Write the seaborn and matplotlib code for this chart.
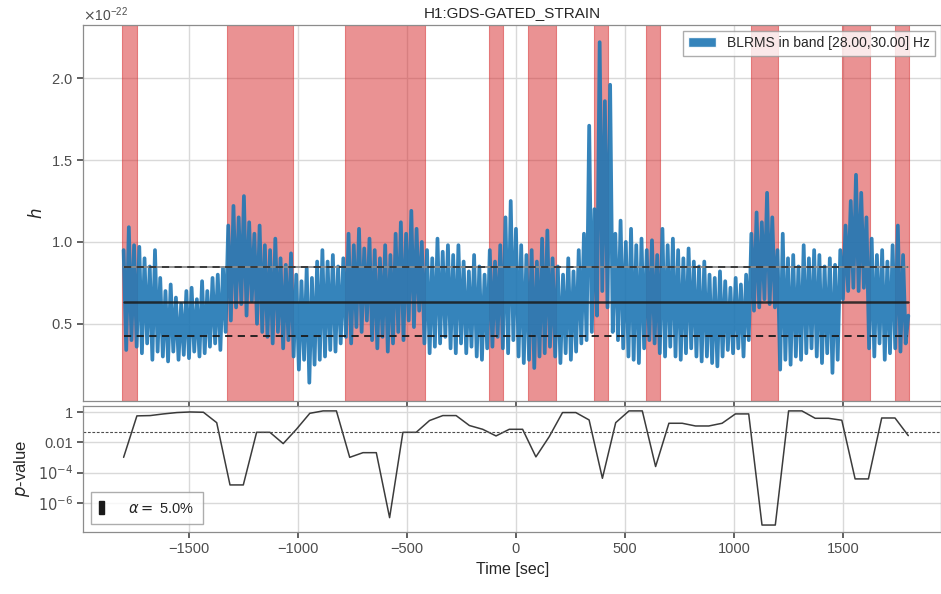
import numpy as np
import matplotlib
matplotlib.use("Agg")
import matplotlib.pyplot as plt
from matplotlib.ticker import ScalarFormatter, FixedLocator, NullLocator
from matplotlib.patches import Patch
import seaborn as sns

# ---------------- data ----------------
title = "H1:GDS-GATED_STRAIN"
legend_label = "BLRMS in band [28.00,30.00] Hz"
alpha_label = r"$\alpha =$ 5.0%"

# BLRMS values (units of 1e-22), one row per 60 s, 12 s apart, starting at -1800 s
blrms_rows = [
    [0.95, 0.34, 1.09, 0.40, 0.98],
    [0.36, 0.97, 0.32, 0.90, 0.38],
    [0.85, 0.28, 0.95, 0.33, 0.78],
    [0.30, 0.70, 0.27, 0.74, 0.33],
    [0.66, 0.28, 0.62, 0.31, 0.70],
    [0.29, 0.72, 0.33, 0.65, 0.30],
    [0.76, 0.32, 0.70, 0.36, 0.78],
    [0.38, 0.80, 0.34, 0.84, 0.45],
    [1.10, 0.52, 1.22, 0.60, 1.15],
    [0.62, 1.28, 0.55, 1.12, 0.64],
    [1.05, 0.50, 1.10, 0.45, 0.98],
    [0.42, 0.95, 0.38, 1.02, 0.45],
    [0.90, 0.35, 0.86, 0.40, 0.93],
    [0.30, 0.80, 0.22, 0.76, 0.28],
    [0.84, 0.14, 0.78, 0.25, 0.88],
    [0.28, 0.95, 0.30, 0.88, 0.34],
    [0.92, 0.33, 0.85, 0.38, 0.90],
    [0.42, 1.05, 0.38, 0.98, 0.48],
    [1.08, 0.45, 0.96, 0.52, 1.02],
    [0.40, 0.95, 0.35, 0.90, 0.42],
    [0.98, 0.33, 0.92, 0.38, 1.05],
    [0.45, 1.12, 0.40, 1.05, 0.52],
    [1.19, 0.48, 1.08, 0.58, 1.00],
    [0.38, 0.95, 0.32, 0.90, 0.36],
    [1.02, 0.38, 0.94, 0.42, 0.98],
    [0.35, 0.92, 0.32, 0.98, 0.38],
    [0.88, 0.32, 0.82, 0.36, 0.92],
    [0.30, 0.85, 0.28, 0.80, 0.35],
    [0.95, 0.36, 0.88, 0.42, 0.98],
    [0.35, 1.15, 0.32, 1.25, 0.40],
    [1.08, 0.30, 0.98, 0.26, 0.92],
    [0.28, 0.95, 0.23, 0.88, 0.30],
    [1.02, 0.32, 1.07, 0.36, 0.90],
    [0.30, 0.85, 0.26, 0.80, 0.32],
    [0.90, 0.28, 0.82, 0.33, 0.95],
    [0.38, 1.05, 0.40, 1.71, 0.45],
    [1.20, 0.55, 2.22, 0.70, 1.86],
    [0.60, 1.96, 0.45, 1.05, 0.40],
    [1.13, 0.35, 1.00, 0.30, 1.08],
    [0.28, 0.98, 0.26, 1.02, 0.35],
    [0.95, 0.40, 1.01, 0.38, 0.92],
    [0.32, 1.08, 0.30, 0.98, 0.36],
    [1.02, 0.30, 0.95, 0.28, 0.90],
    [0.32, 0.96, 0.35, 0.88, 0.30],
    [0.85, 0.27, 0.88, 0.30, 0.80],
    [0.26, 0.78, 0.24, 0.82, 0.30],
    [0.76, 0.34, 0.72, 0.32, 0.78],
    [0.35, 0.74, 0.30, 0.80, 0.40],
    [1.05, 0.58, 1.18, 0.60, 1.12],
    [0.65, 1.30, 0.62, 1.15, 0.60],
    [0.95, 0.22, 1.05, 0.28, 0.90],
    [0.25, 0.92, 0.30, 0.85, 0.28],
    [0.98, 0.32, 0.90, 0.35, 0.95],
    [0.30, 0.92, 0.26, 0.85, 0.32],
    [0.90, 0.20, 0.86, 0.28, 0.95],
    [0.65, 1.10, 0.70, 1.25, 0.72],
    [1.41, 0.70, 1.30, 0.72, 1.15],
    [0.35, 1.02, 0.30, 0.92, 0.38],
    [0.95, 0.28, 0.88, 0.32, 0.98],
    [0.35, 1.10, 0.33, 0.92, 0.38],
]
blrms_last = [0.55]
blrms_mean = 0.634
blrms_upper = 0.848
blrms_lower = 0.427
scale = 1e-22

# p-values at 60 equally spaced times from -1800 to 1800 s (log10)
pval_log10 = [
    -2.99, -0.24, -0.22, -0.11, -0.02, 0.02, 0.00, -0.69, -4.82, -4.82,
    -1.33, -1.33, -2.08, -1.12, -0.07, 0.09, 0.09, -2.99, -2.68, -2.68,
    -6.99, -1.33, -1.33, -0.55, -0.22, -0.22, -0.88, -1.13, -1.57, -1.13,
    -1.13, -2.96, -1.62, -0.02, -0.02, -0.51, -4.38, -0.69, 0.09, 0.09,
    -3.60, -0.73, -0.73, -0.91, -0.91, -0.73, -0.11, -0.11, -7.48, -7.48,
    0.09, 0.09, -0.40, -0.40, -0.53, -4.42, -4.42, -0.38, -0.38, -1.55,
]
alpha_level = 0.05

# flagged segments (start, end) in seconds
span_starts = [-1806, -1327, -785, -125, 56, 358, 595, 1077, 1497, 1737]
span_ends = [-1740, -1022, -418, -59, 182, 422, 663, 1202, 1622, 1802]

t_start, t_end = -1800, 1800

# ---------------- style ----------------
sns.set_theme(style="whitegrid")
plt.rcParams["font.family"] = ["Liberation Sans", "DejaVu Sans"]
plt.rcParams.update({
    "axes.edgecolor": "0.55",
    "axes.linewidth": 0.9,
    "grid.color": "0.85",
    "grid.linewidth": 1.0,
    "xtick.bottom": True,
    "ytick.left": True,
    "xtick.color": "0.3",
    "ytick.color": "0.3",
    "xtick.major.size": 4,
    "ytick.major.size": 4,
    "xtick.labelsize": 10.5,
    "ytick.labelsize": 10.5,
    "text.color": "0.15",
    "axes.labelcolor": "0.15",
})

fig = plt.figure(figsize=(9.41, 5.94), dpi=100)
ax1 = fig.add_axes([0.0885, 0.3254, 0.9115, 0.6325])
ax2 = fig.add_axes([0.0885, 0.1049, 0.9115, 0.2116], sharex=ax1)

# ---------------- top panel ----------------
vals = np.concatenate([np.array(blrms_rows).ravel(), blrms_last]) * scale
t = np.linspace(t_start, t_end, len(vals))

for s0, s1 in zip(span_starts, span_ends):
    ax1.axvspan(s0, s1, facecolor="#d62728", edgecolor="#d62728", alpha=0.5, lw=0.8, zorder=1)

sns.lineplot(x=t, y=vals, ax=ax1, color="#1f77b4", alpha=0.9, lw=2.7, zorder=3,
             estimator=None, sort=False)
ax1.plot([t_start, t_end], [blrms_mean * scale] * 2, color="k", lw=1.8, alpha=0.85, zorder=4)
ax1.plot([t_start, t_end], [blrms_upper * scale] * 2, color="0.55", lw=1.3, zorder=4)
ax1.plot([t_start, t_end], [blrms_upper * scale] * 2, color="0.2", lw=1.3, ls=(0, (4, 3)), zorder=4)
ax1.plot([t_start, t_end], [blrms_lower * scale] * 2, color="k", lw=1.3, ls=(0, (4, 3)), zorder=4)

ax1.set_xlim(-1985, 1950)
ax1.set_ylim(0.03e-22, 2.325e-22)
ax1.yaxis.set_major_locator(FixedLocator([0.5e-22, 1.0e-22, 1.5e-22, 2.0e-22]))
fmt = ScalarFormatter(useMathText=True)
ax1.yaxis.set_major_formatter(fmt)
ax1.yaxis.get_offset_text().set_fontsize(10)
ax1.tick_params(axis="x", labelbottom=False)
ax1.set_ylabel(r"$h$", fontsize=12)
ax1.set_xlabel("")
ax1.set_title(title, fontsize=11, pad=6)
ax1.grid(True, zorder=0)
ax1.set_axisbelow(True)
ax1.legend(handles=[Patch(facecolor="#1f77b4", alpha=0.9, label=legend_label)],
           loc="upper right", fontsize=10, fancybox=False, framealpha=0.8,
           edgecolor="0.6", borderaxespad=0.4)

# ---------------- bottom panel ----------------
tp = np.linspace(t_start, t_end, len(pval_log10))
pv = 10.0 ** np.array(pval_log10)
sns.lineplot(x=tp, y=pv, ax=ax2, color="k", lw=1.1, alpha=0.85, estimator=None, sort=False)
ax2.axhline(alpha_level, color="0.3", lw=0.8, ls=(0, (2.5, 1.5)))
ax2.set_yscale("log")
ax2.set_ylim(1.2e-8, 2.6)
ax2.yaxis.set_major_locator(FixedLocator([1e-6, 1e-4, 1e-2, 1]))
ax2.set_yticklabels([r"$10^{-6}$", r"$10^{-4}$", "0.01", "1"])
ax2.yaxis.set_minor_locator(NullLocator())
ax2.set_xticks([-1500, -1000, -500, 0, 500, 1000, 1500])
ax2.set_xticklabels(["\u22121500", "\u22121000", "\u2212500", "0", "500", "1000", "1500"])
ax2.set_xlim(-1985, 1950)
ax2.set_ylabel(r"$p$-value", fontsize=12)
ax2.set_xlabel("Time [sec]", fontsize=11.5)
ax2.legend(handles=[Patch(facecolor="k", edgecolor="k", label=alpha_label)],
           loc="lower left", fontsize=10.5, fancybox=False, framealpha=0.8,
           edgecolor="0.6", handlelength=0.35, handleheight=1.0, handletextpad=1.6,
           borderpad=0.6, borderaxespad=0.5)

fig.align_ylabels([ax1, ax2])
fig.savefig("out.png", dpi=100)
